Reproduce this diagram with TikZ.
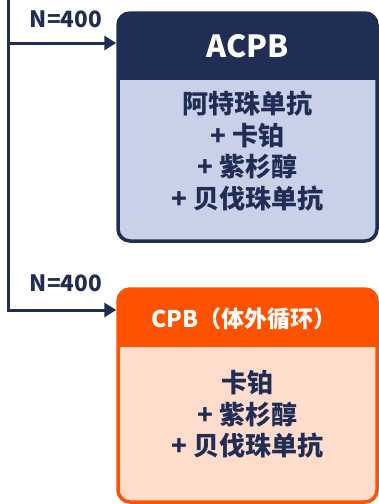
\documentclass[tikz,border=0pt]{standalone}
\usepackage{fontspec}
\setmainfont{Noto Sans CJK SC}
\usetikzlibrary{arrows.meta}
\definecolor{navy}{HTML}{202D55}
\definecolor{navylight}{HTML}{C8D1E8}
\definecolor{orng}{HTML}{FF5200}
\definecolor{peach}{HTML}{FFDCCB}
\begin{document}
\begin{tikzpicture}[x=1pt,y=1pt,
  conn/.style={draw=navy,line width=3pt},
  arr/.style={conn,-{Triangle[length=12pt,width=14pt]}},
  cnt/.style={font=\bfseries\fontsize{22.5}{22.5}\selectfont,text=navy},
  hdr/.style={font=\bfseries\fontsize{#1}{#1}\selectfont,text=white},
  body/.style={align=center,font=\bfseries\fontsize{26}{31.5}\selectfont,text=navy}]
\useasboundingbox (0,0) rectangle (379,-504);
% top box
\begin{scope}
  \clip[rounded corners=12pt] (118,-13) rectangle (377,-241);
  \fill[navylight] (118,-13) rectangle (377,-241);
  \fill[navy] (118,-13) rectangle (377,-80);
\end{scope}
\node[draw=navy,line width=3.5pt,rounded corners=12pt,minimum width=259pt,minimum height=228pt,inner sep=0pt] (acpb) at (247.5,-127) {};
\node[hdr=30.5] (acpbh) at (247.5,-46) {ACPB};
\node[body] (acpbb) at (247.5,-151) {阿特珠单抗\\+ 卡铂\\+ 紫杉醇\\+ 贝伐珠单抗};
% bottom box
\begin{scope}
  \clip[rounded corners=12pt] (118,-289) rectangle (377,-502);
  \fill[peach] (118,-289) rectangle (377,-502);
  \fill[orng] (118,-289) rectangle (377,-347);
\end{scope}
\node[draw=orng,line width=3.5pt,rounded corners=12pt,minimum width=259pt,minimum height=213pt,inner sep=0pt] (cpb) at (247.5,-395.5) {};
\node[hdr=23] (cpbh) at (244,-319) {CPB（体外循环）};
\node[body] (cpbb) at (247.5,-414.5) {卡铂\\+ 紫杉醇\\+ 贝伐珠单抗};
% connectors
\coordinate (top) at (8,0);
\coordinate (ja) at (8,-43);
\coordinate (ta) at (acpb.west |- ja);
\coordinate (jb) at (8,-310);
\coordinate (tb) at (cpb.west |- jb);
\draw[conn] (top) -- (jb);
\draw[arr] (ja) -- (ta);
\draw[arr] ([xshift=-1.5pt]jb) -- (tb);
\node[cnt] (na) at (66,-19) {N=400};
\node[cnt] (nb) at (66,-283) {N=400};
\end{tikzpicture}
\end{document}
